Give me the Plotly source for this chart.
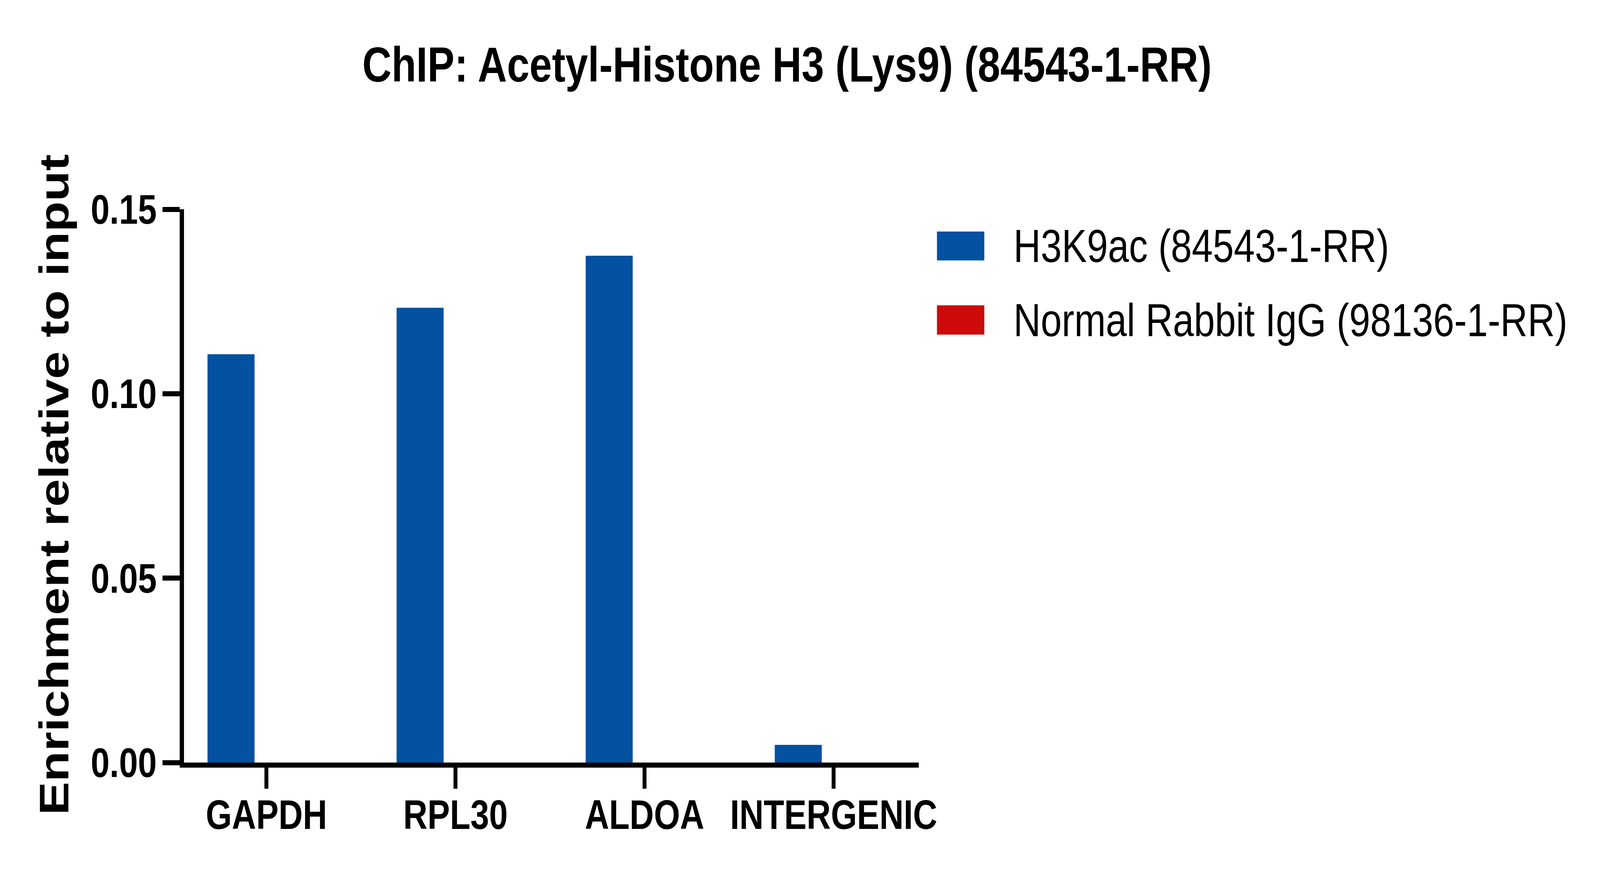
import plotly.graph_objects as go

# ---- data ----
categories = ["GAPDH", "RPL30", "ALDOA", "INTERGENIC"]
h3k9ac = [0.1107, 0.1233, 0.1374, 0.0048]
igg = [0.0, 0.0, 0.0, 0.0]
series_names = ["H3K9ac (84543-1-RR)", "Normal Rabbit IgG (98136-1-RR)"]
y_tickvals = [0.0, 0.05, 0.10, 0.15]
y_ticktext = ["0.00", "0.05", "0.10", "0.15"]
title_text = "ChIP: Acetyl-Histone H3 (Lys9) (84543-1-RR)"
ytitle_text = "Enrichment relative to input"

BLUE = "#0351A0"
RED = "#CC0A0A"
FONT = "Liberation Sans, Arial, sans-serif"

W, H = 5000, 2241
L, R, T, B = 574.5, 5000 - 2871, 536, 2241 - 1953
PW = W - L - R
PH = H - T - B


def px_x(px):
    return (px - L) / PW


def px_y(py):
    return (H - B - py) / PH


fig = go.Figure()
fig.add_bar(x=categories, y=h3k9ac, name=series_names[0], marker_color=BLUE,
            marker_line_width=0)
fig.add_bar(x=categories, y=igg, name=series_names[1], marker_color=RED,
            marker_line_width=0)

axis_common = dict(
    showline=True, linewidth=13, linecolor="black",
    ticks="outside", ticklen=54, tickwidth=13, tickcolor="black",
    showgrid=False, zeroline=False,
)

fig.update_layout(
    width=W, height=H,
    margin=dict(l=L, r=R, t=T, b=B, pad=0, autoexpand=False),
    paper_bgcolor="white", plot_bgcolor="white",
    barmode="group", bargap=0.252, bargroupgap=0.335,
    showlegend=False,
    font=dict(family=FONT, color="black"),
    xaxis=dict(range=[-0.4357, 3.450],
               tickfont=dict(family=FONT, size=105, weight="bold", color="black"),
               ticklabelstandoff=-23, **axis_common),
    yaxis=dict(range=[0, 0.15], tickvals=y_tickvals, ticktext=y_ticktext,
               tickfont=dict(family=FONT, size=106, weight="bold", color="black"),
               ticklabelstandoff=-3, **axis_common),
)

# title
fig.add_annotation(text=title_text, xref="paper", yref="paper",
                   x=px_x(2459), y=px_y(165), xanchor="center", yanchor="middle",
                   showarrow=False,
                   font=dict(family=FONT, size=126.5, weight="bold", color="black"))
# y axis title
fig.add_annotation(text=ytitle_text, xref="paper", yref="paper",
                   x=px_x(168), y=px_y(1241), xanchor="center", yanchor="middle",
                   textangle=-90, showarrow=False,
                   font=dict(family=FONT, size=128, weight="bold", color="black"))

# legend (manual swatches + labels)
legend_rows = [(593, 667, BLUE), (782, 857, RED)]
for (top, bot, col), name in zip(legend_rows, series_names):
    fig.add_shape(type="rect", xref="paper", yref="paper",
                  x0=px_x(2928), x1=px_x(3076), y0=px_y(bot), y1=px_y(top),
                  fillcolor=col, line_width=0)
    fig.add_annotation(text=name, xref="paper", yref="paper",
                       x=px_x(3165), y=px_y((top + bot) / 2),
                       xanchor="left", yanchor="middle", showarrow=False,
                       font=dict(family=FONT, size=118, color="black"))

# Fit the 5000x2241 figure into the actual browser viewport if it is smaller
fit_js = """
(function(){
  var gd = document.getElementById('{plot_id}');
  document.documentElement.style.margin = '0';
  document.body.style.margin = '0';
  document.documentElement.style.overflow = 'hidden';
  document.body.style.overflow = 'hidden';
  function fit(){
    var w = window.innerWidth, h = window.innerHeight;
    var sx = Math.min(1, w / 5000), sy = Math.min(1, h / 2241);
    gd.style.transformOrigin = '0 0';
    gd.style.transform = 'scale(' + sx + ',' + sy + ')';
  }
  fit();
  window.addEventListener('resize', fit);
})();
"""

fig.write_html("out.html", post_script=fit_js,
               config={"displayModeBar": False, "staticPlot": True})
